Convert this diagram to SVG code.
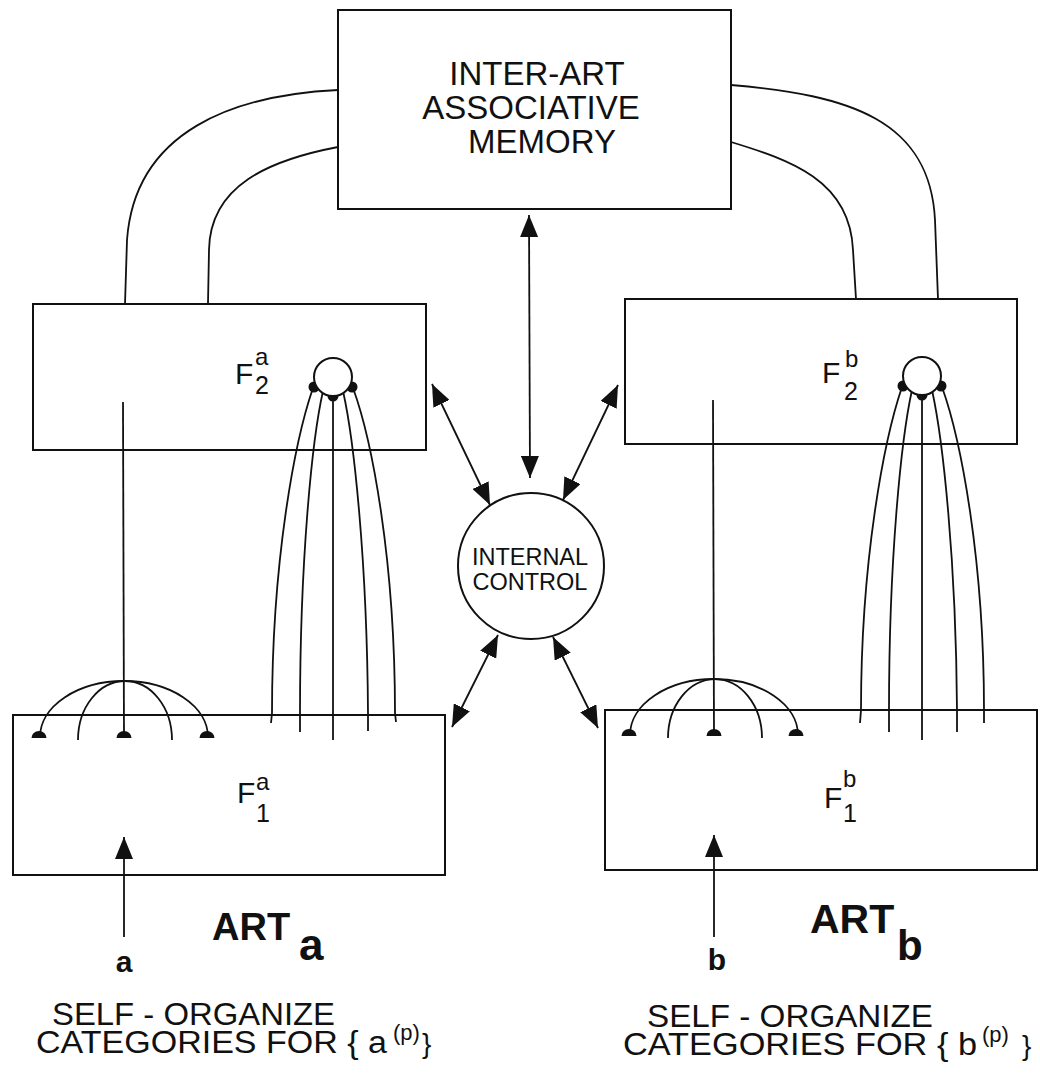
<svg xmlns="http://www.w3.org/2000/svg" width="1040" height="1073" viewBox="0 0 1040 1073">
<style>
.box{fill:none;stroke:#111;stroke-width:2}
.ln{fill:none;stroke:#111;stroke-width:1.8}
.t{font-family:"Liberation Sans",Arial,Helvetica,sans-serif;fill:#111}
.b{font-weight:bold}
.dot{fill:#111}
</style>
<defs>
<marker id="ah" viewBox="0 0 22 18" refX="22" refY="9" markerWidth="22" markerHeight="18" markerUnits="userSpaceOnUse" orient="auto-start-reverse">
<path d="M0,0 L22,9 L0,18 Z" fill="#111"/>
</marker>
</defs>
<rect width="1040" height="1073" fill="#fff"/>

<g id="memory">
<rect class="box" x="338" y="10" width="393" height="199"/>
<text class="t" x="537" y="85" font-size="33" text-anchor="middle">INTER-ART</text>
<text class="t" x="531" y="119" font-size="33" text-anchor="middle">ASSOCIATIVE</text>
<text class="t" x="542" y="153" font-size="33" text-anchor="middle">MEMORY</text>
</g>

<g id="f2a">
<rect class="box" x="33" y="304" width="393" height="146"/>
<text class="t" x="235" y="384" font-size="30">F</text>
<text class="t" x="255" y="365" font-size="24">a</text>
<text class="t" x="255" y="394" font-size="25">2</text>
</g>

<g id="f2b">
<rect class="box" x="625" y="299" width="392" height="145"/>
<text class="t" x="822" y="383" font-size="30">F</text>
<text class="t" x="845" y="367" font-size="24">b</text>
<text class="t" x="844" y="400" font-size="25">2</text>
</g>

<g id="f1a">
<rect class="box" x="13" y="715" width="432" height="160"/>
<text class="t" x="237" y="803" font-size="30">F</text>
<text class="t" x="256" y="790" font-size="24">a</text>
<text class="t" x="256" y="822" font-size="25">1</text>
</g>

<g id="f1b">
<rect class="box" x="605" y="710" width="432" height="160"/>
<text class="t" x="824" y="808" font-size="30">F</text>
<text class="t" x="843" y="787" font-size="24">b</text>
<text class="t" x="843" y="822" font-size="25">1</text>
</g>

<g id="control">
<circle class="box" cx="531" cy="566" r="73" fill="#fff"/>
<text class="t" x="530" y="565" font-size="23.5" text-anchor="middle">INTERNAL</text>
<text class="t" x="530" y="590" font-size="23.5" text-anchor="middle">CONTROL</text>
</g>

<g id="connectors">
<path class="ln" d="M338,90 C235,95 135,130 127,240 L125,304"/>
<path class="ln" d="M338,147 C270,160 210,185 209,250 L208,304"/>
<path class="ln" d="M731,85 C850,95 930,120 935,220 L938,299"/>
<path class="ln" d="M731,142 C790,160 850,180 853,250 L856,299"/>
<line class="ln" x1="529" y1="215" x2="530" y2="478" marker-start="url(#ah)" marker-end="url(#ah)"/>
<line class="ln" x1="432" y1="384" x2="490" y2="505" marker-start="url(#ah)" marker-end="url(#ah)"/>
<line class="ln" x1="618" y1="385" x2="563" y2="500" marker-start="url(#ah)" marker-end="url(#ah)"/>
<line class="ln" x1="498" y1="635" x2="452" y2="727" marker-start="url(#ah)" marker-end="url(#ah)"/>
<line class="ln" x1="553" y1="637" x2="598" y2="728" marker-start="url(#ah)" marker-end="url(#ah)"/>

<line class="ln" x1="123" y1="402" x2="124" y2="738"/>
<path class="ln" d="M40,737 A84,56 0 0 1 208,737"/>
<path class="ln" d="M78,740 A47,59 0 0 1 172,740"/>
<path class="dot" d="M31.5,738 A7.5,7 0 0 1 46.5,738 Z"/>
<path class="dot" d="M116.5,738 A7.5,7 0 0 1 131.5,738 Z"/>
<path class="dot" d="M199.5,738 A7.5,7 0 0 1 214.5,738 Z"/>
<path class="ln" d="M313,388 C295,440 272,560 272,713 L271,723"/>
<path class="ln" d="M323,391 C312,440 300,560 300,713 L300,732"/>
<line class="ln" x1="333" y1="397" x2="333" y2="740"/>
<path class="ln" d="M343,391 C354,440 367,560 368,713 L368,731"/>
<path class="ln" d="M353,388 C372,440 395,560 395,713 L396,722"/>
<circle class="dot" cx="314" cy="387" r="5.5"/>
<circle class="dot" cx="333" cy="396" r="5.5"/>
<circle class="dot" cx="352" cy="387" r="5.5"/>
<circle cx="333" cy="377" r="19" fill="#fff" stroke="#111" stroke-width="2"/>
<line class="ln" x1="124" y1="937" x2="124" y2="837" marker-end="url(#ah)"/>

<line class="ln" x1="713" y1="400" x2="714" y2="736"/>
<path class="ln" d="M630,735 A84,56 0 0 1 798,735"/>
<path class="ln" d="M668,738 A47,59 0 0 1 762,738"/>
<path class="dot" d="M621.5,736 A7.5,7 0 0 1 636.5,736 Z"/>
<path class="dot" d="M706.5,736 A7.5,7 0 0 1 721.5,736 Z"/>
<path class="dot" d="M788.5,736 A7.5,7 0 0 1 803.5,736 Z"/>
<path class="ln" d="M902,387 C884,440 861,560 861,710 L860,723"/>
<path class="ln" d="M912,390 C901,440 889,560 889,710 L889,732"/>
<line class="ln" x1="922" y1="396" x2="922" y2="740"/>
<path class="ln" d="M932,390 C943,440 956,560 957,710 L957,732"/>
<path class="ln" d="M942,387 C961,440 984,560 984,710 L984,723"/>
<circle class="dot" cx="903" cy="386" r="5.5"/>
<circle class="dot" cx="922" cy="395" r="5.5"/>
<circle class="dot" cx="941" cy="386" r="5.5"/>
<circle cx="922" cy="376" r="19" fill="#fff" stroke="#111" stroke-width="2"/>
<line class="ln" x1="714" y1="937" x2="714" y2="835" marker-end="url(#ah)"/>
</g>

<g id="labels-a">
<text class="t b" x="124" y="972" font-size="30" text-anchor="middle">a</text>
<text class="t b" x="212" y="940" font-size="38">ART</text>
<text class="t b" x="299" y="960" font-size="44">a</text>
<text class="t" x="52" y="1025" font-size="31" textLength="283" lengthAdjust="spacingAndGlyphs">SELF - ORGANIZE</text>
<text class="t" x="36" y="1053" font-size="31" textLength="351" lengthAdjust="spacingAndGlyphs">CATEGORIES FOR { a</text>
<text class="t" x="393" y="1040" font-size="22">(p)</text>
<text class="t" x="422" y="1053" font-size="28">}</text>
</g>

<g id="labels-b">
<text class="t b" x="717" y="970" font-size="30" text-anchor="middle">b</text>
<text class="t b" x="810" y="933" font-size="41">ART</text>
<text class="t b" x="897" y="960" font-size="42">b</text>
<text class="t" x="647" y="1027" font-size="31" textLength="286" lengthAdjust="spacingAndGlyphs">SELF - ORGANIZE</text>
<text class="t" x="623" y="1055" font-size="31" textLength="354" lengthAdjust="spacingAndGlyphs">CATEGORIES FOR { b</text>
<text class="t" x="982" y="1042" font-size="22">(p)</text>
<text class="t" x="1022" y="1055" font-size="28">}</text>
</g>
</svg>
